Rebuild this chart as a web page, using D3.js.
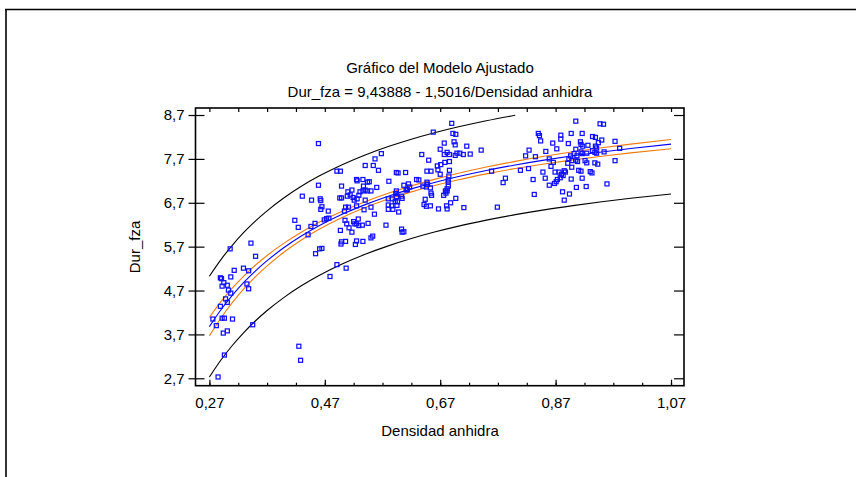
<!DOCTYPE html>
<html><head><meta charset="utf-8">
<script src="https://cdn.jsdelivr.net/npm/d3@7/dist/d3.min.js"></script>
<style>body{margin:0;background:#fff}svg{display:block}text{font-family:"Liberation Sans",Arial,sans-serif;fill:#000}</style>
</head><body><svg id="c" width="856" height="477"></svg>
<script>
const title = "Gráfico del Modelo Ajustado";
const subtitle = "Dur_fza = 9,43888 - 1,5016/Densidad anhidra";
const xLabel = "Densidad anhidra";
const yLabel = "Dur_fza";
const xTicks = [0.27, 0.47, 0.67, 0.87, 1.07];
const xTickLabels = ["0,27", "0,47", "0,67", "0,87", "1,07"];
const xMinorTicks = [0.27,0.32,0.37,0.42,0.47,0.52,0.57,0.62,0.67,0.72,0.77,0.82,0.87,0.92,0.97,1.02,1.07];
const yTicks = [2.7, 3.7, 4.7, 5.7, 6.7, 7.7, 8.7];
const yTickLabels = ["2,7", "3,7", "4,7", "5,7", "6,7", "7,7", "8,7"];

// fitted curve and limits
const curveX   = [0.27,0.29,0.31,0.33,0.35,0.37,0.40,0.43,0.46,0.50,0.54,0.58,0.62,0.66,0.70,0.75,0.80,0.85,0.90,0.95,1.00,1.07];
const fitY     = [3.877,4.261,4.595,4.889,5.149,5.380,5.685,5.947,6.175,6.436,6.658,6.850,7.017,7.164,7.294,7.437,7.562,7.672,7.770,7.858,7.937,8.036];
const confHalf = [0.210,0.186,0.165,0.147,0.132,0.119,0.102,0.089,0.080,0.072,0.067,0.066,0.068,0.070,0.073,0.078,0.082,0.087,0.092,0.096,0.100,0.105];
const predHalf = [1.149,1.145,1.142,1.140,1.138,1.136,1.135,1.134,1.133,1.132,1.132,1.132,1.132,1.132,1.132,1.133,1.133,1.133,1.134,1.134,1.134,1.135];

// observations [Densidad anhidra, Dur_fza]
const points = [
[0.306,5.65],[0.342,5.78],[0.350,5.48],[0.329,5.21],[0.338,5.15],[0.313,5.16],[0.307,5.01],[0.289,4.99],[0.291,4.97],[0.295,4.88],[0.292,4.80],[0.301,4.82],[0.335,4.85],[0.338,4.74],[0.303,4.71],[0.307,4.64],[0.298,4.51],[0.301,4.43],[0.289,4.34],[0.276,4.05],[0.292,4.07],[0.296,4.07],[0.310,4.05],[0.282,3.90],[0.345,3.92],[0.294,3.73],[0.301,3.78],[0.296,3.23],[0.425,3.43],[0.428,3.11],[0.285,2.73],
[0.459,8.05],[0.491,7.42],[0.497,7.42],[0.459,7.10],[0.431,6.85],[0.447,6.76],[0.462,6.79],[0.463,6.75],[0.465,6.61],[0.463,6.55],[0.476,6.51],[0.499,7.08],[0.496,6.81],[0.499,6.81],[0.418,6.30],[0.424,6.14],[0.446,6.16],[0.453,6.23],[0.441,5.97],[0.454,5.54],[0.461,5.65],[0.465,5.66],[0.469,6.31],[0.473,6.34],[0.477,6.35],[0.506,6.60],[0.511,6.60],[0.504,6.51],[0.510,6.95],[0.514,6.88],[0.517,6.99],[0.509,6.85],[0.519,6.82],[0.521,6.76],[0.525,6.63],[0.526,6.79],[0.529,6.87],[0.531,6.95],[0.536,6.97],[0.540,7.55],[0.525,7.23],[0.526,7.20],[0.536,7.23],[0.537,7.08],[0.544,7.17],[0.547,7.18],[0.540,6.99],[0.544,6.97],[0.550,6.97],[0.560,7.05],[0.554,7.55],[0.557,7.70],[0.563,7.44],[0.568,7.82],[0.540,6.76],[0.550,6.60],[0.556,6.44],[0.538,6.54],[0.528,6.33],[0.520,6.27],[0.522,6.22],[0.525,6.22],[0.529,6.18],[0.535,6.19],[0.545,6.23],[0.497,6.07],[0.505,6.30],[0.508,6.22],[0.512,6.13],[0.517,6.03],[0.499,5.81],[0.506,5.82],[0.498,5.76],[0.523,5.75],[0.525,5.83],[0.536,5.82],[0.550,5.90],[0.553,5.94],[0.491,5.29],[0.507,5.21],[0.479,5.02],
[0.690,8.51],[0.658,8.31],[0.692,8.28],[0.697,8.26],[0.677,8.06],[0.694,8.09],[0.696,8.02],[0.716,7.99],[0.741,7.90],[0.670,7.92],[0.682,7.85],[0.677,7.80],[0.686,7.80],[0.699,7.83],[0.704,7.83],[0.696,7.78],[0.710,7.80],[0.722,7.81],[0.638,7.80],[0.650,7.67],[0.678,7.62],[0.686,7.64],[0.671,7.57],[0.665,7.54],[0.666,7.45],[0.647,7.42],[0.654,7.42],[0.670,7.35],[0.686,7.44],[0.685,7.31],[0.759,7.42],[0.594,7.39],[0.597,7.38],[0.610,7.39],[0.581,7.19],[0.629,7.23],[0.633,7.22],[0.684,7.22],[0.647,7.17],[0.607,7.10],[0.615,7.13],[0.617,7.06],[0.613,7.00],[0.611,6.99],[0.594,6.97],[0.593,6.91],[0.640,7.08],[0.648,7.12],[0.646,7.06],[0.653,7.04],[0.684,7.17],[0.684,7.08],[0.682,7.02],[0.679,6.97],[0.682,6.97],[0.680,6.92],[0.676,6.87],[0.654,6.92],[0.655,6.87],[0.603,6.85],[0.604,6.80],[0.594,6.84],[0.587,6.79],[0.580,6.79],[0.592,6.73],[0.596,6.72],[0.595,6.64],[0.580,6.65],[0.580,6.55],[0.586,6.63],[0.588,6.55],[0.644,6.78],[0.697,6.80],[0.688,6.70],[0.642,6.66],[0.646,6.62],[0.653,6.63],[0.711,6.59],[0.681,6.63],[0.682,6.56],[0.667,6.56],[0.598,6.49],[0.576,6.19],[0.603,6.10],[0.604,6.03],[0.607,6.04],
[0.905,8.56],[0.840,8.28],[0.842,8.23],[0.844,8.11],[0.879,8.24],[0.879,8.15],[0.897,8.28],[0.916,8.28],[0.934,8.21],[0.865,8.06],[0.892,8.05],[0.913,8.09],[0.914,8.03],[0.917,7.99],[0.926,8.01],[0.905,7.92],[0.824,7.90],[0.853,7.87],[0.872,7.93],[0.818,7.77],[0.835,7.75],[0.859,7.70],[0.896,7.77],[0.902,7.82],[0.907,7.77],[0.914,7.86],[0.916,7.82],[0.924,7.83],[0.893,7.70],[0.898,7.66],[0.905,7.67],[0.908,7.64],[0.921,7.66],[0.924,7.61],[0.866,7.62],[0.891,7.60],[0.862,7.53],[0.823,7.48],[0.809,7.44],[0.848,7.40],[0.869,7.40],[0.876,7.40],[0.885,7.43],[0.887,7.40],[0.898,7.51],[0.910,7.44],[0.914,7.42],[0.930,7.41],[0.933,7.38],[0.880,7.35],[0.883,7.32],[0.783,7.26],[0.779,7.16],[0.831,7.23],[0.852,7.26],[0.873,7.23],[0.871,7.18],[0.878,7.27],[0.868,7.14],[0.859,7.10],[0.897,7.24],[0.916,7.26],[0.882,6.95],[0.894,6.90],[0.906,7.05],[0.923,7.07],[0.833,6.89],[0.885,6.76],[0.769,6.60],
[0.947,8.50],[0.953,8.49],[0.939,8.19],[0.950,8.13],[0.944,8.07],[0.973,8.10],[0.939,7.99],[0.941,7.95],[0.981,7.94],[0.934,7.89],[0.938,7.85],[0.941,7.83],[0.954,7.86],[0.938,7.61],[0.943,7.58],[0.973,7.66],[0.959,7.13]
];

const svg = d3.select("#c");
const L = 195.5, R = 684, T = 108, B = 385.7;
const x = d3.scaleLinear().domain([0.2459, 1.0925]).range([L, R]);
const y = d3.scaleLinear().domain([2.531, 8.86]).range([B, T]);
const FS = 15;

// outer frame
svg.append("line").attr("x1",5).attr("x2",856).attr("y1",9.5).attr("y2",9.5).attr("stroke","#000").attr("stroke-width",1.6);
svg.append("line").attr("x1",6).attr("x2",6).attr("y1",9).attr("y2",477).attr("stroke","#000").attr("stroke-width",1.6);

// titles
svg.append("text").attr("x",440).attr("y",73).attr("text-anchor","middle").attr("font-size",FS).text(title);
svg.append("text").attr("x",440).attr("y",97).attr("text-anchor","middle").attr("font-size",FS).text(subtitle);

// curves
const ymaxShown = d3.max(yTicks);
const line = d3.line().x(d => x(d[0])).y(d => y(d[1])).curve(d3.curveMonotoneX);
const mk = (f) => curveX.map((cx, i) => [cx, f(i)]);
const g = svg.append("g");
const predHi = mk(i => fitY[i] + predHalf[i]).filter(d => d[1] <= ymaxShown);
const predLo = mk(i => fitY[i] - predHalf[i]);
const confHi = mk(i => fitY[i] + confHalf[i]);
const confLo = mk(i => fitY[i] - confHalf[i]);
const fit = mk(i => fitY[i]);
[[predHi,"#000000"],[predLo,"#000000"],[confHi,"#f07c10"],[confLo,"#f07c10"],[fit,"#0000ff"]].forEach(([d,c]) => {
  g.append("path").datum(d).attr("d", line).attr("fill","none").attr("stroke",c).attr("stroke-width",1.1);
});

// points (hollow blue squares)
svg.append("g").selectAll("rect").data(points).join("rect")
  .attr("x", d => x(d[0]) - 2)
  .attr("y", d => y(d[1]) - 2)
  .attr("width", 4).attr("height", 4)
  .attr("fill","none").attr("stroke","#1010ff").attr("stroke-width",1.25);

// axes
const ax = svg.append("g");
ax.append("g").attr("transform",`translate(0,${B})`)
  .call(d3.axisBottom(x).tickValues(xMinorTicks).tickSize(-3).tickFormat(""))
  .call(s => s.select(".domain").remove());
ax.append("g").attr("transform",`translate(0,${B})`)
  .call(d3.axisBottom(x).tickValues(xTicks).tickSize(-6).tickPadding(12).tickFormat((d,i) => xTickLabels[i]))
  .call(s => s.select(".domain").remove())
  .call(s => s.selectAll("text").attr("font-size",FS).attr("font-family","Liberation Sans, Arial, sans-serif").attr("fill","#000"));
ax.append("g").attr("transform",`translate(0,${T})`)
  .call(d3.axisTop(x).tickValues(xMinorTicks).tickSize(-4).tickFormat(""))
  .call(s => s.select(".domain").remove());
ax.append("g").attr("transform",`translate(${L},0)`)
  .call(d3.axisLeft(y).tickValues(yTicks).tickSize(7).tickPadding(4).tickFormat((d,i) => yTickLabels[i]))
  .call(s => s.select(".domain").remove())
  .call(s => s.selectAll("text").attr("font-size",FS).attr("font-family","Liberation Sans, Arial, sans-serif").attr("fill","#000"));
ax.append("g").attr("transform",`translate(${L},0)`)
  .call(d3.axisLeft(y).tickValues(yTicks).tickSize(-9).tickFormat(""))
  .call(s => s.select(".domain").remove());
ax.append("g").attr("transform",`translate(${R},0)`)
  .call(d3.axisRight(y).tickValues(yTicks).tickSize(-10).tickFormat(""))
  .call(s => s.select(".domain").remove());
ax.selectAll(".tick line").attr("stroke","#000").attr("stroke-width",1.2);

svg.append("rect").attr("x",L).attr("y",T).attr("width",R-L).attr("height",B-T)
  .attr("fill","none").attr("stroke","#000").attr("stroke-width",1.6);

// axis titles
svg.append("text").attr("x",440).attr("y",436).attr("text-anchor","middle").attr("font-size",FS).text(xLabel);
svg.append("text").attr("transform","translate(140,247) rotate(-90)").attr("text-anchor","middle").attr("font-size",FS).text(yLabel);
</script></body></html>
